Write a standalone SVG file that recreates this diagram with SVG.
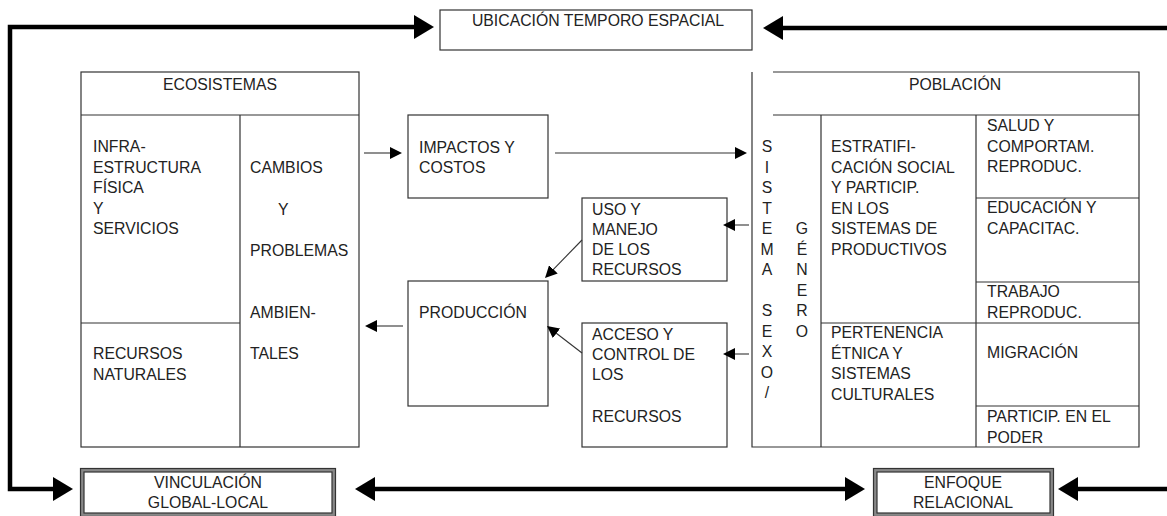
<svg xmlns="http://www.w3.org/2000/svg" width="1167" height="516" viewBox="0 0 1167 516">
<style>
text{font-family:"Liberation Sans",Arial,sans-serif;font-size:15.8px;fill:#222}
.c{text-anchor:middle}
.b{fill:none;stroke:#333;stroke-width:1.2}
.thin{fill:none;stroke:#333;stroke-width:1.1}
.thick{fill:none;stroke:#000;stroke-width:4.5}
.dbl{fill:none;stroke:#888;stroke-width:3}
</style>
<defs>
<marker id="big" viewBox="0 0 20 24" markerWidth="20" markerHeight="24" refX="2" refY="12" orient="auto-start-reverse" markerUnits="userSpaceOnUse"><path d="M0,0 L20,12 L0,24 z" fill="#000"/></marker>
<marker id="sm" viewBox="0 0 12 12" markerWidth="12" markerHeight="12" refX="1" refY="6" orient="auto" markerUnits="userSpaceOnUse"><path d="M0,0 L12,6 L0,12 z" fill="#000"/></marker>
</defs>
<rect width="1167" height="516" fill="#fff"/>

<g id="ubicacion">
<rect class="b" x="440" y="10" width="312" height="40"/>
<text class="c" x="598" y="26">UBICACIÓN TEMPORO ESPACIAL</text>
</g>

<g id="ecosistemas">
<rect class="b" x="81" y="72" width="278" height="375"/>
<path class="b" d="M81,115 H359 M240,115 V447 M81,323 H240"/>
<text class="c" x="220" y="90">ECOSISTEMAS</text>
<text x="93" y="152">INFRA-<tspan x="93" dy="20.5">ESTRUCTURA</tspan><tspan x="93" dy="20.5">FÍSICA</tspan><tspan x="93" dy="20.5">Y</tspan><tspan x="93" dy="20.5">SERVICIOS</tspan></text>
<text x="250" y="173">CAMBIOS</text>
<text x="278" y="215">Y</text>
<text x="250" y="256">PROBLEMAS</text>
<text x="250" y="318">AMBIEN-</text>
<text x="250" y="359">TALES</text>
<text x="93" y="359">RECURSOS<tspan x="93" dy="20.5">NATURALES</tspan></text>
</g>

<g id="impactos">
<rect class="b" x="408" y="115" width="140" height="83"/>
<text x="419" y="153">IMPACTOS Y<tspan x="419" dy="19.5">COSTOS</tspan></text>
</g>

<g id="uso">
<rect class="b" x="582" y="198" width="145" height="83"/>
<text x="592" y="215">USO Y<tspan x="592" dy="20">MANEJO</tspan><tspan x="592" dy="20">DE LOS</tspan><tspan x="592" dy="19.5">RECURSOS</tspan></text>
</g>

<g id="produccion">
<rect class="b" x="408" y="281" width="140" height="125"/>
<text x="419" y="318">PRODUCCIÓN</text>
</g>

<g id="acceso">
<rect class="b" x="582" y="323" width="145" height="124"/>
<text x="592" y="340">ACCESO Y<tspan x="592" dy="20">CONTROL DE</tspan><tspan x="592" dy="20">LOS</tspan><tspan x="592" dy="42">RECURSOS</tspan></text>
</g>

<g id="poblacion">
<path class="b" d="M752,72 V447 H1139 V72 H773 M773,115 H1139 M821,115 V447 M976,115 V447 M821,323 H1139 M976,198 H1139 M976,282 H1139 M976,406 H1139"/>
<text class="c" x="955" y="90">POBLACIÓN</text>
<text class="c" x="767" y="152">S<tspan x="767" dy="20.5">I</tspan><tspan x="767" dy="20.5">S</tspan><tspan x="767" dy="20.5">T</tspan><tspan x="767" dy="20.5">E</tspan><tspan x="767" dy="20.5">M</tspan><tspan x="767" dy="20.5">A</tspan><tspan x="767" dy="41">S</tspan><tspan x="767" dy="20.5">E</tspan><tspan x="767" dy="20.5">X</tspan><tspan x="767" dy="20.5">O</tspan><tspan x="767" dy="20.5">/</tspan></text>
<text class="c" x="802" y="234">G<tspan x="802" dy="20.5">É</tspan><tspan x="802" dy="20.5">N</tspan><tspan x="802" dy="20.5">E</tspan><tspan x="802" dy="20.5">R</tspan><tspan x="802" dy="20.5">O</tspan></text>
<text x="831" y="152">ESTRATIFI-<tspan x="831" dy="20.5">CACIÓN SOCIAL</tspan><tspan x="831" dy="20.5">Y PARTICIP.</tspan><tspan x="831" dy="20.5">EN LOS</tspan><tspan x="831" dy="20.5">SISTEMAS DE</tspan><tspan x="831" dy="20.5">PRODUCTIVOS</tspan></text>
<text x="831" y="338">PERTENENCIA<tspan x="831" dy="20.5">ÉTNICA Y</tspan><tspan x="831" dy="20.5">SISTEMAS</tspan><tspan x="831" dy="20.5">CULTURALES</tspan></text>
<text x="987" y="131">SALUD Y<tspan x="987" dy="20.5">COMPORTAM.</tspan><tspan x="987" dy="20.5">REPRODUC.</tspan></text>
<text x="987" y="213">EDUCACIÓN Y<tspan x="987" dy="20.5">CAPACITAC.</tspan></text>
<text x="987" y="297">TRABAJO<tspan x="987" dy="20.5">REPRODUC.</tspan></text>
<text x="987" y="358">MIGRACIÓN</text>
<text x="987" y="422">PARTICIP. EN EL<tspan x="987" dy="20.5">PODER</tspan></text>
</g>

<g id="vinculacion">
<rect class="dbl" x="82.5" y="470.5" width="251" height="44"/>
<rect class="b" x="80.5" y="468.5" width="255" height="48"/>
<rect class="b" x="84" y="472" width="248" height="41"/>
<text class="c" x="208" y="488">VINCULACIÓN</text>
<text class="c" x="208" y="508">GLOBAL-LOCAL</text>
</g>

<g id="enfoque">
<rect class="dbl" x="875.5" y="470.5" width="176" height="44"/>
<rect class="b" x="873.5" y="468.5" width="180" height="48"/>
<rect class="b" x="877" y="472" width="173" height="41"/>
<text class="c" x="963" y="488">ENFOQUE</text>
<text class="c" x="963" y="508">RELACIONAL</text>
</g>

<g id="connectors">
<path class="thick" d="M55,489 H10 V27 H416" marker-start="url(#big)" marker-end="url(#big)"/>
<path class="thick" d="M1167,28 H781" marker-end="url(#big)"/>
<path class="thick" d="M373,489 H847" marker-start="url(#big)" marker-end="url(#big)"/>
<path class="thick" d="M1167,489 H1076" marker-end="url(#big)"/>
<path class="thin" d="M364,153 H391" marker-end="url(#sm)"/>
<path class="thin" d="M555,153 H736" marker-end="url(#sm)"/>
<path class="thin" d="M749,225 H734" marker-end="url(#sm)"/>
<path class="thin" d="M749,354 H734" marker-end="url(#sm)"/>
<path class="thin" d="M403,326 H376" marker-end="url(#sm)"/>
<path class="thin" d="M582,240 L552.7,270.1" marker-end="url(#sm)"/>
<path class="thin" d="M582,353 L555.7,332.7" marker-end="url(#sm)"/>
</g>
</svg>
